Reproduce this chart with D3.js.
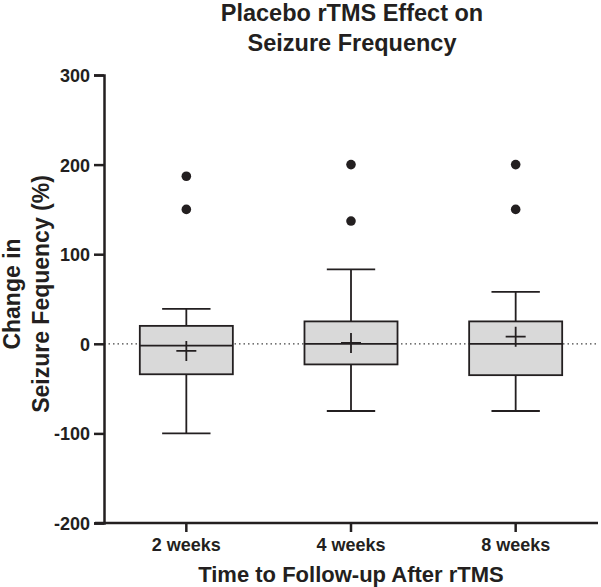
<!DOCTYPE html>
<html>
<head>
<meta charset="utf-8">
<script src="https://cdn.jsdelivr.net/npm/d3@7"></script>
<style>
  body { margin: 0; background: #fff; }
  text { font-family: 'Liberation Sans', Arial, sans-serif; fill: #231f20; }
</style>
</head>
<body>
<svg id="chart" width="601" height="587"></svg>
<script>
// data
const categories = ['2 weeks', '4 weeks', '8 weeks'];
const whiskerLow = [-100, -75, -75];
const q1 = [-34, -23, -35];
const median = [-2, 0, 0];
const q3 = [20, 25, 25];
const whiskerHigh = [39, 83, 58];
const mean = [-8, 1, 8];
const outliers = [[187, 150], [200, 137], [200, 150]];
const yTicks = [-200, -100, 0, 100, 200, 300];

const svg = d3.select('#chart');
const ink = '#231f20';
const margin = { top: 75, right: 3, bottom: 64, left: 104 };
const width = 601 - margin.left - margin.right;
const height = 587 - margin.top - margin.bottom;

const g = svg.append('g')
  .attr('transform', `translate(${margin.left},${margin.top})`);

const x = d3.scaleBand().domain(categories).range([0, width]).padding(0);
const y = d3.scaleLinear().domain([-200, 300]).range([height, 0]);

const boxW = x.bandwidth() * 0.565;
const capW = boxW * 0.52;
const plusW = 20;
const lw = 1.8;

// zero reference line
g.append('line')
  .attr('x1', 0).attr('x2', width)
  .attr('y1', y(0)).attr('y2', y(0))
  .attr('stroke', '#444')
  .attr('stroke-width', 1.3)
  .attr('stroke-dasharray', '1.5,3');

const boxes = g.selectAll('.box')
  .data(categories.map((c, i) => ({
    c, lo: whiskerLow[i], q1: q1[i], med: median[i], q3: q3[i], hi: whiskerHigh[i], mean: mean[i], out: outliers[i]
  })))
  .enter().append('g')
  .attr('class', 'box')
  .attr('transform', d => `translate(${x(d.c) + x.bandwidth() / 2},0)`);

// whiskers + caps
boxes.append('path')
  .attr('d', d => `M0,${y(d.hi)}V${y(d.q3)}M0,${y(d.q1)}V${y(d.lo)}` +
    `M${-capW / 2},${y(d.hi)}H${capW / 2}M${-capW / 2},${y(d.lo)}H${capW / 2}`)
  .attr('stroke', ink).attr('stroke-width', lw).attr('fill', 'none');

boxes.append('rect')
  .attr('x', -boxW / 2)
  .attr('width', boxW)
  .attr('y', d => y(d.q3))
  .attr('height', d => y(d.q1) - y(d.q3))
  .attr('fill', '#d9d9d9')
  .attr('stroke', ink)
  .attr('stroke-width', lw);

boxes.append('line')
  .attr('x1', -boxW / 2).attr('x2', boxW / 2)
  .attr('y1', d => y(d.med)).attr('y2', d => y(d.med))
  .attr('stroke', ink).attr('stroke-width', lw);

// mean as plus sign
boxes.append('path')
  .attr('d', d => `M${-plusW / 2},${y(d.mean)}H${plusW / 2}M0,${y(d.mean) - plusW / 2}V${y(d.mean) + plusW / 2}`)
  .attr('stroke', ink).attr('stroke-width', lw).attr('fill', 'none');

boxes.selectAll('.out')
  .data(d => d.out)
  .enter().append('circle')
  .attr('class', 'out')
  .attr('cx', 0)
  .attr('cy', d => y(d))
  .attr('r', 4.8)
  .attr('fill', ink);

// axes
const yAxis = g.append('g')
  .call(d3.axisLeft(y).tickValues(yTicks).tickFormat(d => String(d)).tickSize(10).tickPadding(4));
const xAxis = g.append('g')
  .attr('transform', `translate(0,${height})`)
  .call(d3.axisBottom(x).tickSize(9));

[yAxis, xAxis].forEach(a => {
  a.select('.domain').attr('stroke', ink).attr('stroke-width', 2.5);
  a.selectAll('.tick line').attr('stroke', ink).attr('stroke-width', 2.5);
  a.selectAll('.tick text')
    .attr('fill', ink)
    .style('font-size', '18px')
    .style('font-weight', 'bold');
});
yAxis.selectAll('.tick text').attr('dy', '0.36em');
xAxis.selectAll('.tick text').attr('dy', null).attr('y', 28);
xAxis.select('.domain').attr('d', `M-9,0H${width}`);

// titles
svg.append('text')
  .attr('x', 352).attr('y', 21)
  .attr('text-anchor', 'middle')
  .style('font-size', '23.5px').style('font-weight', 'bold')
  .text('Placebo rTMS Effect on');
svg.append('text')
  .attr('x', 352).attr('y', 51)
  .attr('text-anchor', 'middle')
  .style('font-size', '23.5px').style('font-weight', 'bold')
  .text('Seizure Frequency');

svg.append('text')
  .attr('x', 351).attr('y', 582)
  .attr('text-anchor', 'middle')
  .style('font-size', '22px').style('font-weight', 'bold')
  .text('Time to Follow-up After rTMS');

const yLab = svg.append('text')
  .attr('transform', 'translate(20,294) rotate(-90)')
  .attr('text-anchor', 'middle')
  .style('font-size', '23px').style('font-weight', 'bold');
yLab.append('tspan').attr('x', 0).attr('y', 0).text('Change in');
yLab.append('tspan').attr('x', 0).attr('y', 29).text('Seizure Fequency (%)');
</script>
</body>
</html>
